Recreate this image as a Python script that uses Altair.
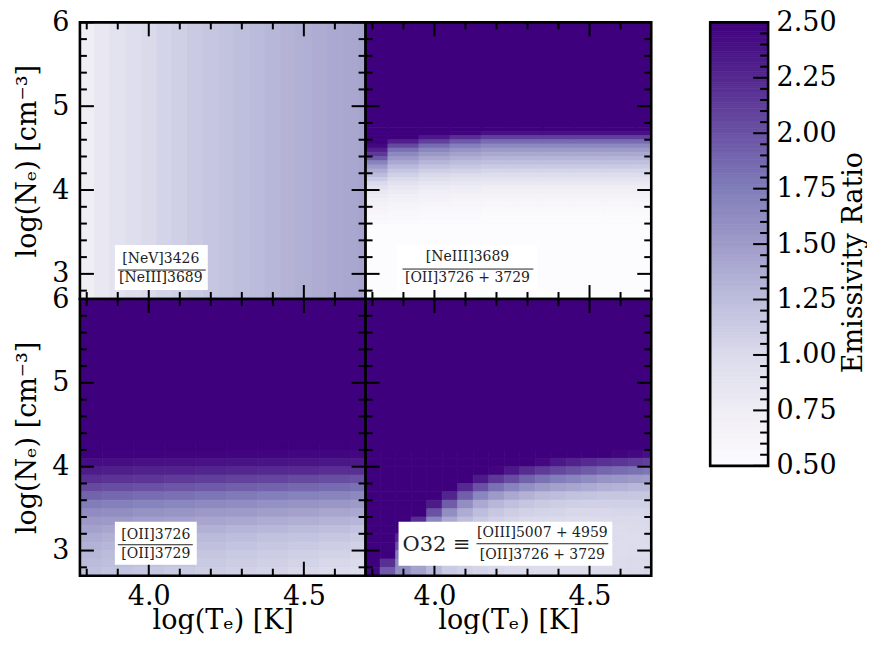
import altair as alt
import pandas as pd

# ---------------- layout constants ----------------
W, H = 286, 277          # each panel
CBW, CBH = 58, 444       # colour bar
FONT = "DejaVu Serif"
FS = 27

# ---------------- axes ----------------
T_DOMAIN = [3.778, 4.699]
N_DOMAIN = [2.7, 6.0]

x_major = [4.0, 4.5]
x_minor = [3.8, 3.9, 4.1, 4.2, 4.3, 4.4, 4.6]
y_major = [3, 4, 5, 6]
y_minor = [2.8, 3.2, 3.4, 3.6, 3.8, 4.2, 4.4, 4.6, 4.8, 5.2, 5.4, 5.6, 5.8]
cb_major = [0.5, 0.75, 1.0, 1.25, 1.5, 1.75, 2.0, 2.25, 2.5]
cb_minor = [0.55, 0.6, 0.65, 0.7, 0.8, 0.85, 0.9, 0.95, 1.05, 1.1, 1.15, 1.2,
            1.3, 1.35, 1.4, 1.45, 1.55, 1.6, 1.65, 1.7, 1.8, 1.85, 1.9, 1.95,
            2.05, 2.1, 2.15, 2.2, 2.3, 2.35, 2.4, 2.45]

# colour map (matplotlib "Purples" anchor colours at the colour-bar major ticks)
purples = ["#fcfbfd", "#efedf5", "#dadaeb", "#bcbddc", "#9e9ac8",
           "#807dba", "#6a51a3", "#54278f", "#3f007d"]

# ---------------- data ----------------
# top-left: [NeV]3426/[NeIII]3689 -- depends on T only
tl_T = [3.80, 3.85, 3.90, 3.95, 4.00, 4.05, 4.10, 4.15, 4.20, 4.25,
        4.30, 4.35, 4.40, 4.45, 4.50, 4.55, 4.60, 4.65, 4.70]
tl_ratio = [0.74, 0.82, 0.89, 0.95, 1.00, 1.05, 1.09, 1.13, 1.17, 1.20,
            1.23, 1.26, 1.29, 1.32, 1.35, 1.37, 1.39, 1.41, 1.43]

# top-right: [NeIII]3689/[OII]3726+3729
tr_T = [3.8, 3.9, 4.0, 4.1, 4.2, 4.3, 4.4, 4.5, 4.6, 4.7]
tr_N = [4.775, 4.725, 4.675, 4.625, 4.575, 4.525, 4.475, 4.425, 4.375, 4.325,
        4.275, 4.225, 4.175, 4.125, 4.075, 4.025, 3.975, 3.925, 3.875, 3.825,
        3.775, 3.725, 3.675, 3.625]
tr_ratio = [
    [2.60, 2.60, 2.60, 2.60, 2.60, 2.60, 2.60, 2.60, 2.60, 2.60],
    [2.60, 2.60, 2.60, 2.60, 2.60, 2.60, 2.60, 2.60, 2.60, 2.60],
    [2.60, 2.60, 2.55, 2.47, 2.40, 2.40, 2.40, 2.40, 2.40, 2.40],
    [2.60, 2.50, 2.35, 2.20, 2.10, 2.10, 2.10, 2.10, 2.10, 2.10],
    [2.55, 2.30, 2.10, 1.95, 1.85, 1.85, 1.85, 1.85, 1.85, 1.85],
    [2.45, 2.05, 1.85, 1.73, 1.65, 1.65, 1.65, 1.65, 1.65, 1.65],
    [2.30, 1.82, 1.66, 1.56, 1.50, 1.50, 1.50, 1.50, 1.50, 1.50],
    [2.15, 1.65, 1.52, 1.45, 1.40, 1.40, 1.40, 1.40, 1.40, 1.40],
    [1.95, 1.52, 1.41, 1.35, 1.31, 1.31, 1.31, 1.31, 1.31, 1.31],
    [1.70, 1.40, 1.30, 1.25, 1.22, 1.22, 1.22, 1.22, 1.22, 1.22],
    [1.50, 1.28, 1.20, 1.16, 1.13, 1.13, 1.13, 1.13, 1.13, 1.13],
    [1.37, 1.18, 1.10, 1.07, 1.04, 1.04, 1.04, 1.04, 1.04, 1.04],
    [1.25, 1.08, 1.01, 0.98, 0.96, 0.96, 0.96, 0.96, 0.96, 0.96],
    [1.12, 0.99, 0.93, 0.90, 0.88, 0.88, 0.88, 0.88, 0.88, 0.88],
    [1.00, 0.90, 0.85, 0.82, 0.80, 0.80, 0.80, 0.80, 0.80, 0.80],
    [0.90, 0.83, 0.78, 0.76, 0.74, 0.74, 0.74, 0.74, 0.74, 0.74],
    [0.83, 0.77, 0.73, 0.71, 0.69, 0.69, 0.69, 0.69, 0.69, 0.69],
    [0.77, 0.72, 0.68, 0.66, 0.65, 0.65, 0.65, 0.65, 0.65, 0.65],
    [0.72, 0.67, 0.64, 0.63, 0.62, 0.62, 0.62, 0.62, 0.62, 0.62],
    [0.68, 0.63, 0.61, 0.60, 0.59, 0.59, 0.59, 0.59, 0.59, 0.59],
    [0.64, 0.60, 0.58, 0.57, 0.56, 0.56, 0.56, 0.56, 0.56, 0.56],
    [0.60, 0.57, 0.55, 0.55, 0.54, 0.54, 0.54, 0.54, 0.54, 0.54],
    [0.57, 0.55, 0.53, 0.53, 0.52, 0.52, 0.52, 0.52, 0.52, 0.52],
    [0.55, 0.53, 0.52, 0.51, 0.51, 0.51, 0.51, 0.51, 0.51, 0.51],
]
tr_bands = [(4.8, 6.0, 2.6), (2.7, 3.6, 0.5)]   # uniform regions (N from, N to, ratio)

# bottom-left: [OII]3726/[OII]3729
bl_T = [3.8, 3.9, 4.0, 4.1, 4.2, 4.3, 4.4, 4.5, 4.6, 4.7]
bl_N = [4.25, 4.15, 4.05, 3.95, 3.85, 3.75, 3.65, 3.55, 3.45, 3.35,
        3.25, 3.15, 3.05, 2.95, 2.85, 2.75]
bl_ratio = [
    [2.55, 2.54, 2.54, 2.53, 2.53, 2.52, 2.52, 2.51, 2.51, 2.50],
    [2.50, 2.49, 2.49, 2.48, 2.48, 2.47, 2.47, 2.46, 2.46, 2.45],
    [2.42, 2.41, 2.40, 2.40, 2.39, 2.38, 2.37, 2.37, 2.36, 2.35],
    [2.32, 2.31, 2.29, 2.28, 2.27, 2.25, 2.24, 2.23, 2.21, 2.20],
    [2.20, 2.18, 2.16, 2.13, 2.11, 2.09, 2.07, 2.04, 2.02, 2.00],
    [2.05, 2.02, 2.00, 1.97, 1.95, 1.92, 1.90, 1.87, 1.85, 1.82],
    [1.90, 1.87, 1.84, 1.82, 1.79, 1.76, 1.73, 1.71, 1.68, 1.65],
    [1.75, 1.72, 1.69, 1.67, 1.64, 1.61, 1.58, 1.56, 1.53, 1.50],
    [1.62, 1.60, 1.57, 1.55, 1.52, 1.50, 1.47, 1.45, 1.42, 1.40],
    [1.52, 1.50, 1.47, 1.45, 1.42, 1.40, 1.37, 1.35, 1.32, 1.30],
    [1.45, 1.42, 1.39, 1.37, 1.34, 1.31, 1.28, 1.26, 1.23, 1.20],
    [1.38, 1.35, 1.32, 1.30, 1.27, 1.24, 1.21, 1.19, 1.16, 1.13],
    [1.33, 1.30, 1.27, 1.25, 1.22, 1.19, 1.16, 1.14, 1.11, 1.08],
    [1.29, 1.26, 1.23, 1.20, 1.17, 1.15, 1.12, 1.09, 1.06, 1.03],
    [1.26, 1.23, 1.20, 1.17, 1.14, 1.11, 1.08, 1.05, 1.02, 0.99],
    [1.23, 1.20, 1.17, 1.14, 1.11, 1.08, 1.05, 1.02, 0.99, 0.96],
]
bl_bands = [(4.3, 6.0, 2.6)]

# bottom-right: O32 = [OIII]5007+4959 / [OII]3726+3729
br_T = [3.80, 3.85, 3.90, 3.95, 4.00, 4.05, 4.10, 4.15, 4.20, 4.25,
        4.30, 4.35, 4.40, 4.45, 4.50, 4.55, 4.60, 4.65, 4.70]
br_N = [4.15, 4.05, 3.95, 3.85, 3.75, 3.65, 3.55, 3.45, 3.35, 3.25,
        3.15, 3.05, 2.95, 2.85, 2.75]
br_ratio = [
    [2.60, 2.60, 2.60, 2.60, 2.60, 2.60, 2.60, 2.60, 2.60, 2.60, 2.60, 2.60, 2.60, 2.55, 2.53, 2.50, 2.47, 2.44, 2.41],
    [2.60, 2.60, 2.60, 2.60, 2.60, 2.60, 2.60, 2.60, 2.60, 2.60, 2.53, 2.44, 2.35, 2.29, 2.23, 2.19, 2.16, 2.13, 2.10],
    [2.60, 2.60, 2.60, 2.60, 2.60, 2.60, 2.60, 2.60, 2.47, 2.35, 2.22, 2.13, 2.06, 2.00, 1.94, 1.88, 1.84, 1.81, 1.78],
    [2.60, 2.60, 2.60, 2.60, 2.60, 2.60, 2.55, 2.33, 2.15, 2.03, 1.91, 1.81, 1.74, 1.68, 1.62, 1.56, 1.53, 1.50, 1.48],
    [2.60, 2.60, 2.60, 2.60, 2.60, 2.55, 2.24, 2.00, 1.82, 1.70, 1.59, 1.50, 1.45, 1.42, 1.38, 1.34, 1.32, 1.29, 1.28],
    [2.60, 2.60, 2.60, 2.60, 2.60, 2.27, 1.92, 1.67, 1.50, 1.40, 1.33, 1.27, 1.24, 1.21, 1.19, 1.17, 1.17, 1.16, 1.16],
    [2.60, 2.60, 2.60, 2.60, 2.33, 1.93, 1.60, 1.39, 1.29, 1.22, 1.17, 1.13, 1.11, 1.09, 1.08, 1.08, 1.08, 1.08, 1.08],
    [2.60, 2.60, 2.60, 2.50, 2.00, 1.60, 1.37, 1.24, 1.16, 1.11, 1.07, 1.05, 1.04, 1.02, 1.02, 1.02, 1.03, 1.03, 1.04],
    [2.60, 2.60, 2.60, 2.21, 1.67, 1.39, 1.24, 1.15, 1.08, 1.04, 1.01, 1.00, 0.99, 0.98, 0.98, 0.99, 1.00, 1.00, 1.01],
    [2.60, 2.60, 2.50, 1.93, 1.45, 1.28, 1.17, 1.09, 1.04, 1.00, 0.97, 0.96, 0.96, 0.95, 0.96, 0.97, 0.98, 0.99, 1.00],
    [2.60, 2.60, 2.25, 1.64, 1.37, 1.22, 1.12, 1.06, 1.00, 0.97, 0.94, 0.94, 0.94, 0.94, 0.95, 0.96, 0.97, 0.98, 0.99],
    [2.60, 2.60, 2.00, 1.49, 1.32, 1.18, 1.09, 1.04, 0.98, 0.95, 0.93, 0.93, 0.93, 0.93, 0.94, 0.95, 0.96, 0.97, 0.98],
    [2.60, 2.50, 1.75, 1.47, 1.29, 1.15, 1.07, 1.03, 0.97, 0.95, 0.93, 0.93, 0.93, 0.93, 0.94, 0.95, 0.96, 0.97, 0.98],
    [2.60, 2.20, 1.62, 1.46, 1.28, 1.14, 1.07, 1.03, 0.99, 0.97, 0.95, 0.95, 0.95, 0.95, 0.96, 0.97, 0.98, 0.99, 1.00],
    [2.45, 1.95, 1.60, 1.45, 1.28, 1.14, 1.08, 1.04, 1.01, 0.99, 0.97, 0.97, 0.97, 0.97, 0.98, 0.99, 1.00, 1.01, 1.02],
]
br_bands = [(4.2, 6.0, 2.6)]

# panel labels (numerator, denominator)
lab_tl = ("[NeV]3426", "[NeIII]3689")
lab_tr = ("[NeIII]3689", "[OII]3726 + 3729")
lab_bl = ("[OII]3726", "[OII]3729")
lab_br = ("[OIII]5007 + 4959", "[OII]3726 + 3729")
lab_br_prefix = "O32 ≡"

x_title = "log(Tₑ) [K]"
y_title = "log(Nₑ) [cm⁻³]"
cb_title = "Emissivity Ratio"


# ---------------- build cell tables ----------------
def grid_cells(Ts, Ns, rows, dT, dN):
    recs = []
    for N, row in zip(Ns, rows):
        for T, v in zip(Ts, row):
            recs.append({"x0": T - dT / 2, "x1": T + dT / 2,
                         "y0": N - dN / 2, "y1": N + dN / 2, "v": v})
    return recs


def band_cells(bands):
    return [{"x0": T_DOMAIN[0], "x1": T_DOMAIN[1], "y0": lo, "y1": hi, "v": v}
            for lo, hi, v in bands]


df_tl = pd.DataFrame([{"x0": T - 0.025, "x1": T + 0.025, "y0": N_DOMAIN[0],
                       "y1": N_DOMAIN[1], "v": v} for T, v in zip(tl_T, tl_ratio)])
df_tr = pd.DataFrame(band_cells(tr_bands) + grid_cells(tr_T, tr_N, tr_ratio, 0.1, 0.05))
df_bl = pd.DataFrame(band_cells(bl_bands) + grid_cells(bl_T, bl_N, bl_ratio, 0.1, 0.1))
df_br = pd.DataFrame(band_cells(br_bands) + grid_cells(br_T, br_N, br_ratio, 0.05, 0.1))

xs = alt.Scale(domain=T_DOMAIN, nice=False, zero=False)
ys = alt.Scale(domain=N_DOMAIN, nice=False, zero=False)
cs = alt.Scale(domain=cb_major, range=purples, interpolate="rgb", clamp=True)
cbs = alt.Scale(domain=[cb_major[0], cb_major[-1]], nice=False, zero=False)

one = pd.DataFrame({"k": [0]})


def x_axis(show):
    if not show:
        return None
    return alt.Axis(values=x_major, format=".1f", ticks=False, tickSize=0, domain=False,
                    grid=False, labelFontSize=FS, labelFont=FONT, labelPadding=8,
                    labelFlush=False, labelColor="black", title=x_title, titleFont=FONT,
                    titleFontSize=FS, titleFontWeight="normal", titleColor="black",
                    titlePadding=-2)


def y_axis(show):
    if not show:
        return None
    return alt.Axis(values=y_major, format="d", ticks=False, tickSize=0, domain=False,
                    grid=False, labelFontSize=FS, labelFont=FONT, labelPadding=11,
                    labelFlush=False, labelColor="black", title=y_title, titleFont=FONT,
                    titleFontSize=FS, titleFontWeight="normal", titleColor="black",
                    titlePadding=10)


def panel(df, show_x, show_y, annot):
    xa, ya = x_axis(show_x), y_axis(show_y)
    heat = alt.Chart(df).mark_rect(clip=True, strokeWidth=0.8).encode(
        x=alt.X("x0:Q", scale=xs, axis=xa), x2="x1:Q",
        y=alt.Y("y0:Q", scale=ys, axis=ya), y2="y1:Q",
        color=alt.Color("v:Q", scale=cs, legend=None),
        stroke=alt.Stroke("v:Q", scale=cs, legend=None),
    )
    layers = [heat]
    for vals, ln in ((x_major, 14), (x_minor, 7)):
        d = pd.DataFrame({"t": vals})
        for y0, y1 in ((H, H - ln), (0, ln)):
            layers.append(alt.Chart(d).mark_rule(color="black", strokeWidth=2).encode(
                x=alt.X("t:Q", scale=xs, axis=xa), y=alt.value(y0), y2=alt.value(y1)))
    for vals, ln in ((y_major, 14), (y_minor, 7)):
        d = pd.DataFrame({"t": vals})
        for x0, x1 in ((0, ln), (W, W - ln)):
            layers.append(alt.Chart(d).mark_rule(color="black", strokeWidth=2).encode(
                y=alt.Y("t:Q", scale=ys, axis=ya), x=alt.value(x0), x2=alt.value(x1)))
    layers += annot
    layers.append(alt.Chart(one).mark_rect(filled=False, stroke="black", strokeWidth=2.6).encode(
        x=alt.value(0), x2=alt.value(W), y=alt.value(0), y2=alt.value(H)))
    return alt.layer(*layers).properties(width=W, height=H)


def box(x0, y0, x1, y1):
    return alt.Chart(one).mark_rect(color="white").encode(
        x=alt.value(x0), x2=alt.value(x1), y=alt.value(y0), y2=alt.value(y1))


def text(s, x, y, size=14, align="center"):
    return alt.Chart(pd.DataFrame({"s": [s]})).mark_text(
        font=FONT, fontSize=size, color="#222222", align=align, baseline="middle").encode(
        x=alt.value(x), y=alt.value(y), text="s:N")


def hline(x0, x1, y):
    return alt.Chart(one).mark_rule(color="#222222", strokeWidth=1).encode(
        x=alt.value(x0), x2=alt.value(x1), y=alt.value(y))


def fraction(lab, cx, yn, yl, yd, xl, xr):
    return [text(lab[0], cx, yn), hline(xl, xr, yl), text(lab[1], cx, yd)]


ann_tl = [box(35, 223, 128, 268)] + fraction(lab_tl, 81, 237, 248, 256, 38, 126)
ann_tr = [box(32, 223, 172, 268)] + fraction(lab_tr, 102, 235, 247, 256, 37, 168)
ann_bl = [box(35, 223, 117, 266)] + fraction(lab_bl, 76, 236, 246, 255, 38, 113)
ann_br = [box(33, 223, 247, 267), text(lab_br_prefix, 37, 246, 21, "left")] + \
    fraction(lab_br, 177, 234, 245, 256, 111, 243)

p_tl = panel(df_tl, False, True, ann_tl)
p_tr = panel(df_tr, False, False, ann_tr)
p_bl = panel(df_bl, True, True, ann_bl)
p_br = panel(df_br, True, False, ann_br)

grid = alt.concat(p_tl, p_tr, p_bl, p_br, columns=2, spacing=0, bounds="flush")

# ---------------- colour bar ----------------
cb_axis = alt.Axis(orient="right", values=cb_major, format=".2f", ticks=False, tickSize=0,
                   domain=False, grid=False, labelFontSize=FS, labelFont=FONT,
                   labelPadding=8, labelFlush=False, labelColor="black",
                   title=cb_title, titleFont=FONT, titleFontSize=FS,
                   titleFontWeight="normal", titleColor="black", titleAngle=270,
                   titleBaseline="top", titlePadding=4, titleY=CBH / 2 + 18)

cb_fill = alt.Chart(alt.sequence(0.5, 2.5, 0.01, as_="v")).transform_calculate(
    v2="datum.v + 0.01").mark_rect(strokeWidth=0.8).encode(
    y=alt.Y("v:Q", scale=cbs, axis=cb_axis), y2="v2:Q",
    x=alt.value(0), x2=alt.value(CBW),
    color=alt.Color("v:Q", scale=cs, legend=None),
    stroke=alt.Stroke("v:Q", scale=cs, legend=None))
cb_layers = [cb_fill]
for vals, ln in ((cb_major, 15), (cb_minor, 8)):
    cb_layers.append(alt.Chart(pd.DataFrame({"t": vals})).mark_rule(
        color="black", strokeWidth=2).encode(
        y=alt.Y("t:Q", scale=cbs, axis=cb_axis), x=alt.value(CBW), x2=alt.value(CBW - ln)))
cb_layers.append(alt.Chart(one).mark_rect(filled=False, stroke="black", strokeWidth=2.6).encode(
    x=alt.value(0), x2=alt.value(CBW), y=alt.value(0), y2=alt.value(CBH)))
cbar = alt.layer(*cb_layers).properties(width=CBW, height=CBH)

chart = alt.hconcat(grid, cbar, spacing=55).properties(
    padding={"left": 5, "top": 0, "right": 0, "bottom": 0}
).configure(font=FONT).configure_view(stroke=None)

chart.save("out.html", embed_options={"renderer": "svg", "actions": False})
